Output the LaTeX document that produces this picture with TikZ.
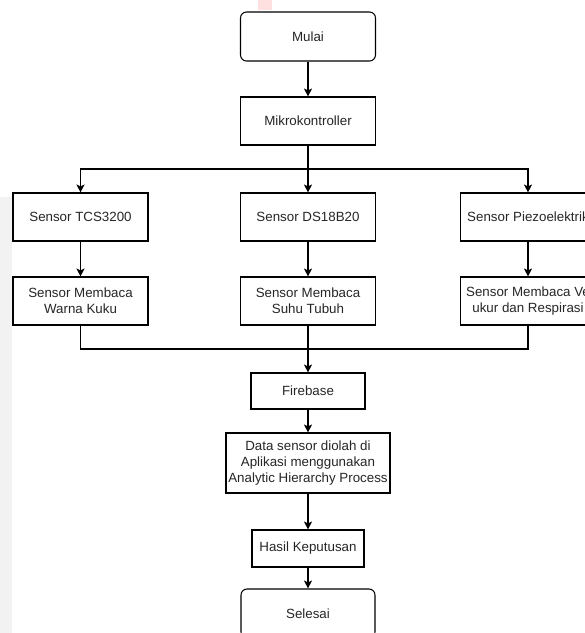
\documentclass[tikz,border=0pt]{standalone}
\usepackage{fontspec}
\setmainfont{Liberation Sans}
\usetikzlibrary{arrows.meta,positioning}
\tikzset{
  box/.style={draw=black, line width=0.8pt, fill=white, align=center, inner sep=1pt,
    font=\fontsize{10pt}{12pt}\selectfont, text=black!85},
  term/.style={box, rounded corners=4.5pt},
  conn/.style={draw=black, line width=0.8pt},
  arr/.style={conn, -{Stealth[length=6pt,width=6pt,inset=1.5pt]}},
}
\begin{document}
\begin{tikzpicture}[x=0.75pt,y=-0.75pt]
\useasboundingbox (0,0) rectangle (585,633);
\clip (0,0) rectangle (585,633);
% faint background artefacts
\fill[black!5] (0,197) rectangle (12,633);
\fill[red!12] (258,0) rectangle (272,10);

% nodes
\node[term, minimum width=135*0.75pt, minimum height=49*0.75pt] (mulai) at (308,36.5) {Mulai};
\node[box, minimum width=135*0.75pt, minimum height=48*0.75pt] (mikro) at (308,121) {Mikrokontroller};

\node[box, minimum width=135*0.75pt, minimum height=48*0.75pt] (s1) at (80.5,217) {Sensor TCS3200};
\node[box, minimum width=135*0.75pt, minimum height=48*0.75pt] (s2) at (308,217) {Sensor DS18B20};
\node[box, minimum width=135*0.75pt, minimum height=48*0.75pt] (s3) at (528,217) {Sensor Piezoelektrik};

\node[box, minimum width=135*0.75pt, minimum height=48*0.75pt] (m1) at (80.5,301) {Sensor Membaca\\Warna Kuku};
\node[box, minimum width=135*0.75pt, minimum height=48*0.75pt] (m2) at (308,301) {Sensor Membaca\\Suhu Tubuh};
\node[box, minimum width=135*0.75pt, minimum height=48*0.75pt] (m3) at (528,301) {Sensor Membaca Ve\\ukur dan Respirasi};

\node[box, minimum width=114*0.75pt, minimum height=36*0.75pt] (fire) at (308,391) {Firebase};
\node[box, minimum width=164*0.75pt, minimum height=60*0.75pt] (data) at (308,463) {Data sensor diolah di\\Aplikasi menggunakan\\Analytic Hierarchy Process};
\node[box, minimum width=112*0.75pt, minimum height=37*0.75pt] (hasil) at (308,548.5) {Hasil Keputusan};
\node[term, minimum width=134*0.75pt, minimum height=49*0.75pt] (selesai) at (308,613.5) {Selesai};

% junctions
\coordinate (j1) at (308,169);
\coordinate (j2) at (308,349);

% connectors
\draw[arr] (mulai) -- (mikro);
\draw[conn] (mikro.south) -- (j1);
\draw[arr] (j1) -- (s2.north);
\draw[arr] (j1) -| (s1.north);
\draw[arr] (j1) -| (s3.north);
\draw[arr] (s1) -- (m1);
\draw[arr] (s2) -- (m2);
\draw[arr] (s3) -- (m3);
\draw[conn] (m1.south) |- (j2);
\draw[conn] (m3.south) |- (j2);
\draw[arr] (m2.south) -- (fire.north);
\draw[arr] (fire) -- (data);
\draw[arr] (data) -- (hasil);
\draw[arr] (hasil) -- (selesai);
\end{tikzpicture}
\end{document}
